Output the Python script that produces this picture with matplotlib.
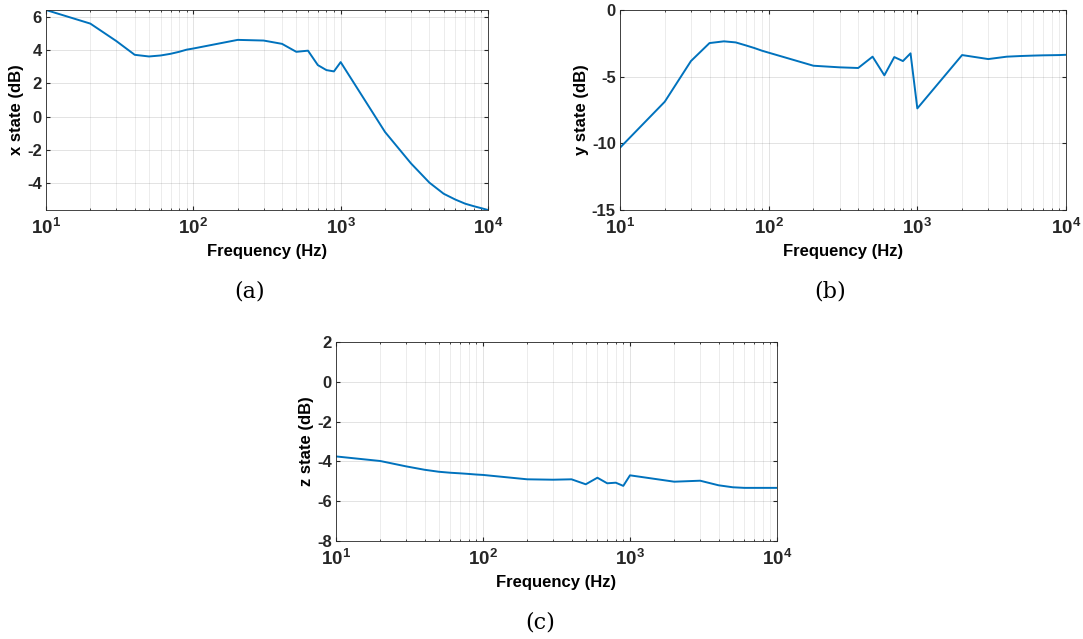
import numpy as np
import matplotlib.pyplot as plt
from matplotlib.ticker import FixedLocator, LogLocator, NullFormatter

freq = [10, 20, 30, 40, 50, 60, 70, 80, 90, 100,
        200, 300, 400, 500, 600, 700, 800, 900, 1000,
        2000, 3000, 4000, 5000, 6000, 7000, 8000, 9000, 10000]

x_state = [6.42, 5.6, 4.55, 3.72, 3.62, 3.68, 3.78, 3.9, 4.03, 4.1,
           4.62, 4.58, 4.38, 3.9, 3.97, 3.1, 2.8, 2.72, 3.28,
           -0.93, -2.82, -3.98, -4.65, -5.0, -5.25, -5.4, -5.52, -5.63]

y_state = [-10.33, -6.88, -3.83, -2.48, -2.35, -2.43, -2.65, -2.85, -3.05, -3.2,
           -4.18, -4.3, -4.35, -3.5, -4.9, -3.53, -3.83, -3.25, -7.38,
           -3.38, -3.68, -3.5, -3.45, -3.42, -3.4, -3.39, -3.38, -3.36]

z_state = [-3.75, -3.98, -4.25, -4.42, -4.52, -4.57, -4.6, -4.63, -4.66, -4.68,
           -4.9, -4.92, -4.9, -5.15, -4.82, -5.1, -5.07, -5.23, -4.7,
           -5.02, -4.97, -5.2, -5.3, -5.33, -5.33, -5.33, -5.33, -5.33]

plt.rcParams['font.family'] = 'Liberation Sans'
plt.rcParams['font.weight'] = 'bold'
plt.rcParams['mathtext.fontset'] = 'custom'
plt.rcParams['mathtext.rm'] = 'Liberation Sans:bold'
plt.rcParams['mathtext.bf'] = 'Liberation Sans:bold'
plt.rcParams['mathtext.default'] = 'bf'

fig = plt.figure(figsize=(10.83, 6.39), dpi=100)
W, H = 1083, 639

def make_ax(l, t, r, b):
    return fig.add_axes([l / W, 1 - b / H, (r - l) / W, (b - t) / H])

def style(ax, data, ylabel, ylim, yticks, caption, cx, cy):
    ax.semilogx(freq, data, color='#0072BD', linewidth=1.4)
    ax.set_xlim(10, 1e4)
    ax.set_ylim(*ylim)
    ax.set_yticks(yticks)
    ax.set_yticklabels([str(v) for v in yticks])
    ax.xaxis.set_major_locator(FixedLocator([10, 100, 1000, 10000]))
    ax.set_xticklabels([r'$10^{1}$', r'$10^{2}$', r'$10^{3}$', r'$10^{4}$'])
    ax.xaxis.set_minor_locator(LogLocator(base=10, subs=np.arange(2, 10)))
    ax.xaxis.set_minor_formatter(NullFormatter())
    ax.grid(True, which='major', color='#262626', alpha=0.15, linewidth=0.6)
    ax.grid(True, which='minor', axis='x', color='#262626', alpha=0.12, linewidth=0.5)
    ax.tick_params(which='both', direction='in', top=True, right=True,
                   labelsize=12, colors='#262626', length=3)
    ax.tick_params(which='minor', length=1.5)
    ax.tick_params(axis='x', pad=6, labelsize=13.5)
    ax.tick_params(axis='y', pad=3)
    for s in ax.spines.values():
        s.set_color('#262626')
        s.set_linewidth(0.6)
    ax.set_xlabel('Frequency (Hz)', fontsize=12, fontweight='bold', labelpad=4)
    ax.set_ylabel(ylabel, fontsize=12, fontweight='bold', labelpad=2)
    fig.text(cx / W, 1 - cy / H, caption, ha='center', va='center',
             fontsize=16, family='DejaVu Serif', fontweight='normal')

ax1 = make_ax(46, 10, 488, 210)
style(ax1, x_state, 'x state (dB)', (-5.63, 6.42), [-4, -2, 0, 2, 4, 6], '(a)', 250, 292)

ax2 = make_ax(620, 10, 1066, 210)
style(ax2, y_state, 'y state (dB)', (-15, 0), [-15, -10, -5, 0], '(b)', 830, 292)

ax3 = make_ax(336, 342, 777, 541)
style(ax3, z_state, 'z state (dB)', (-8, 2), [-8, -6, -4, -2, 0, 2], '(c)', 540, 622)

fig.savefig('out.png', dpi=100)
